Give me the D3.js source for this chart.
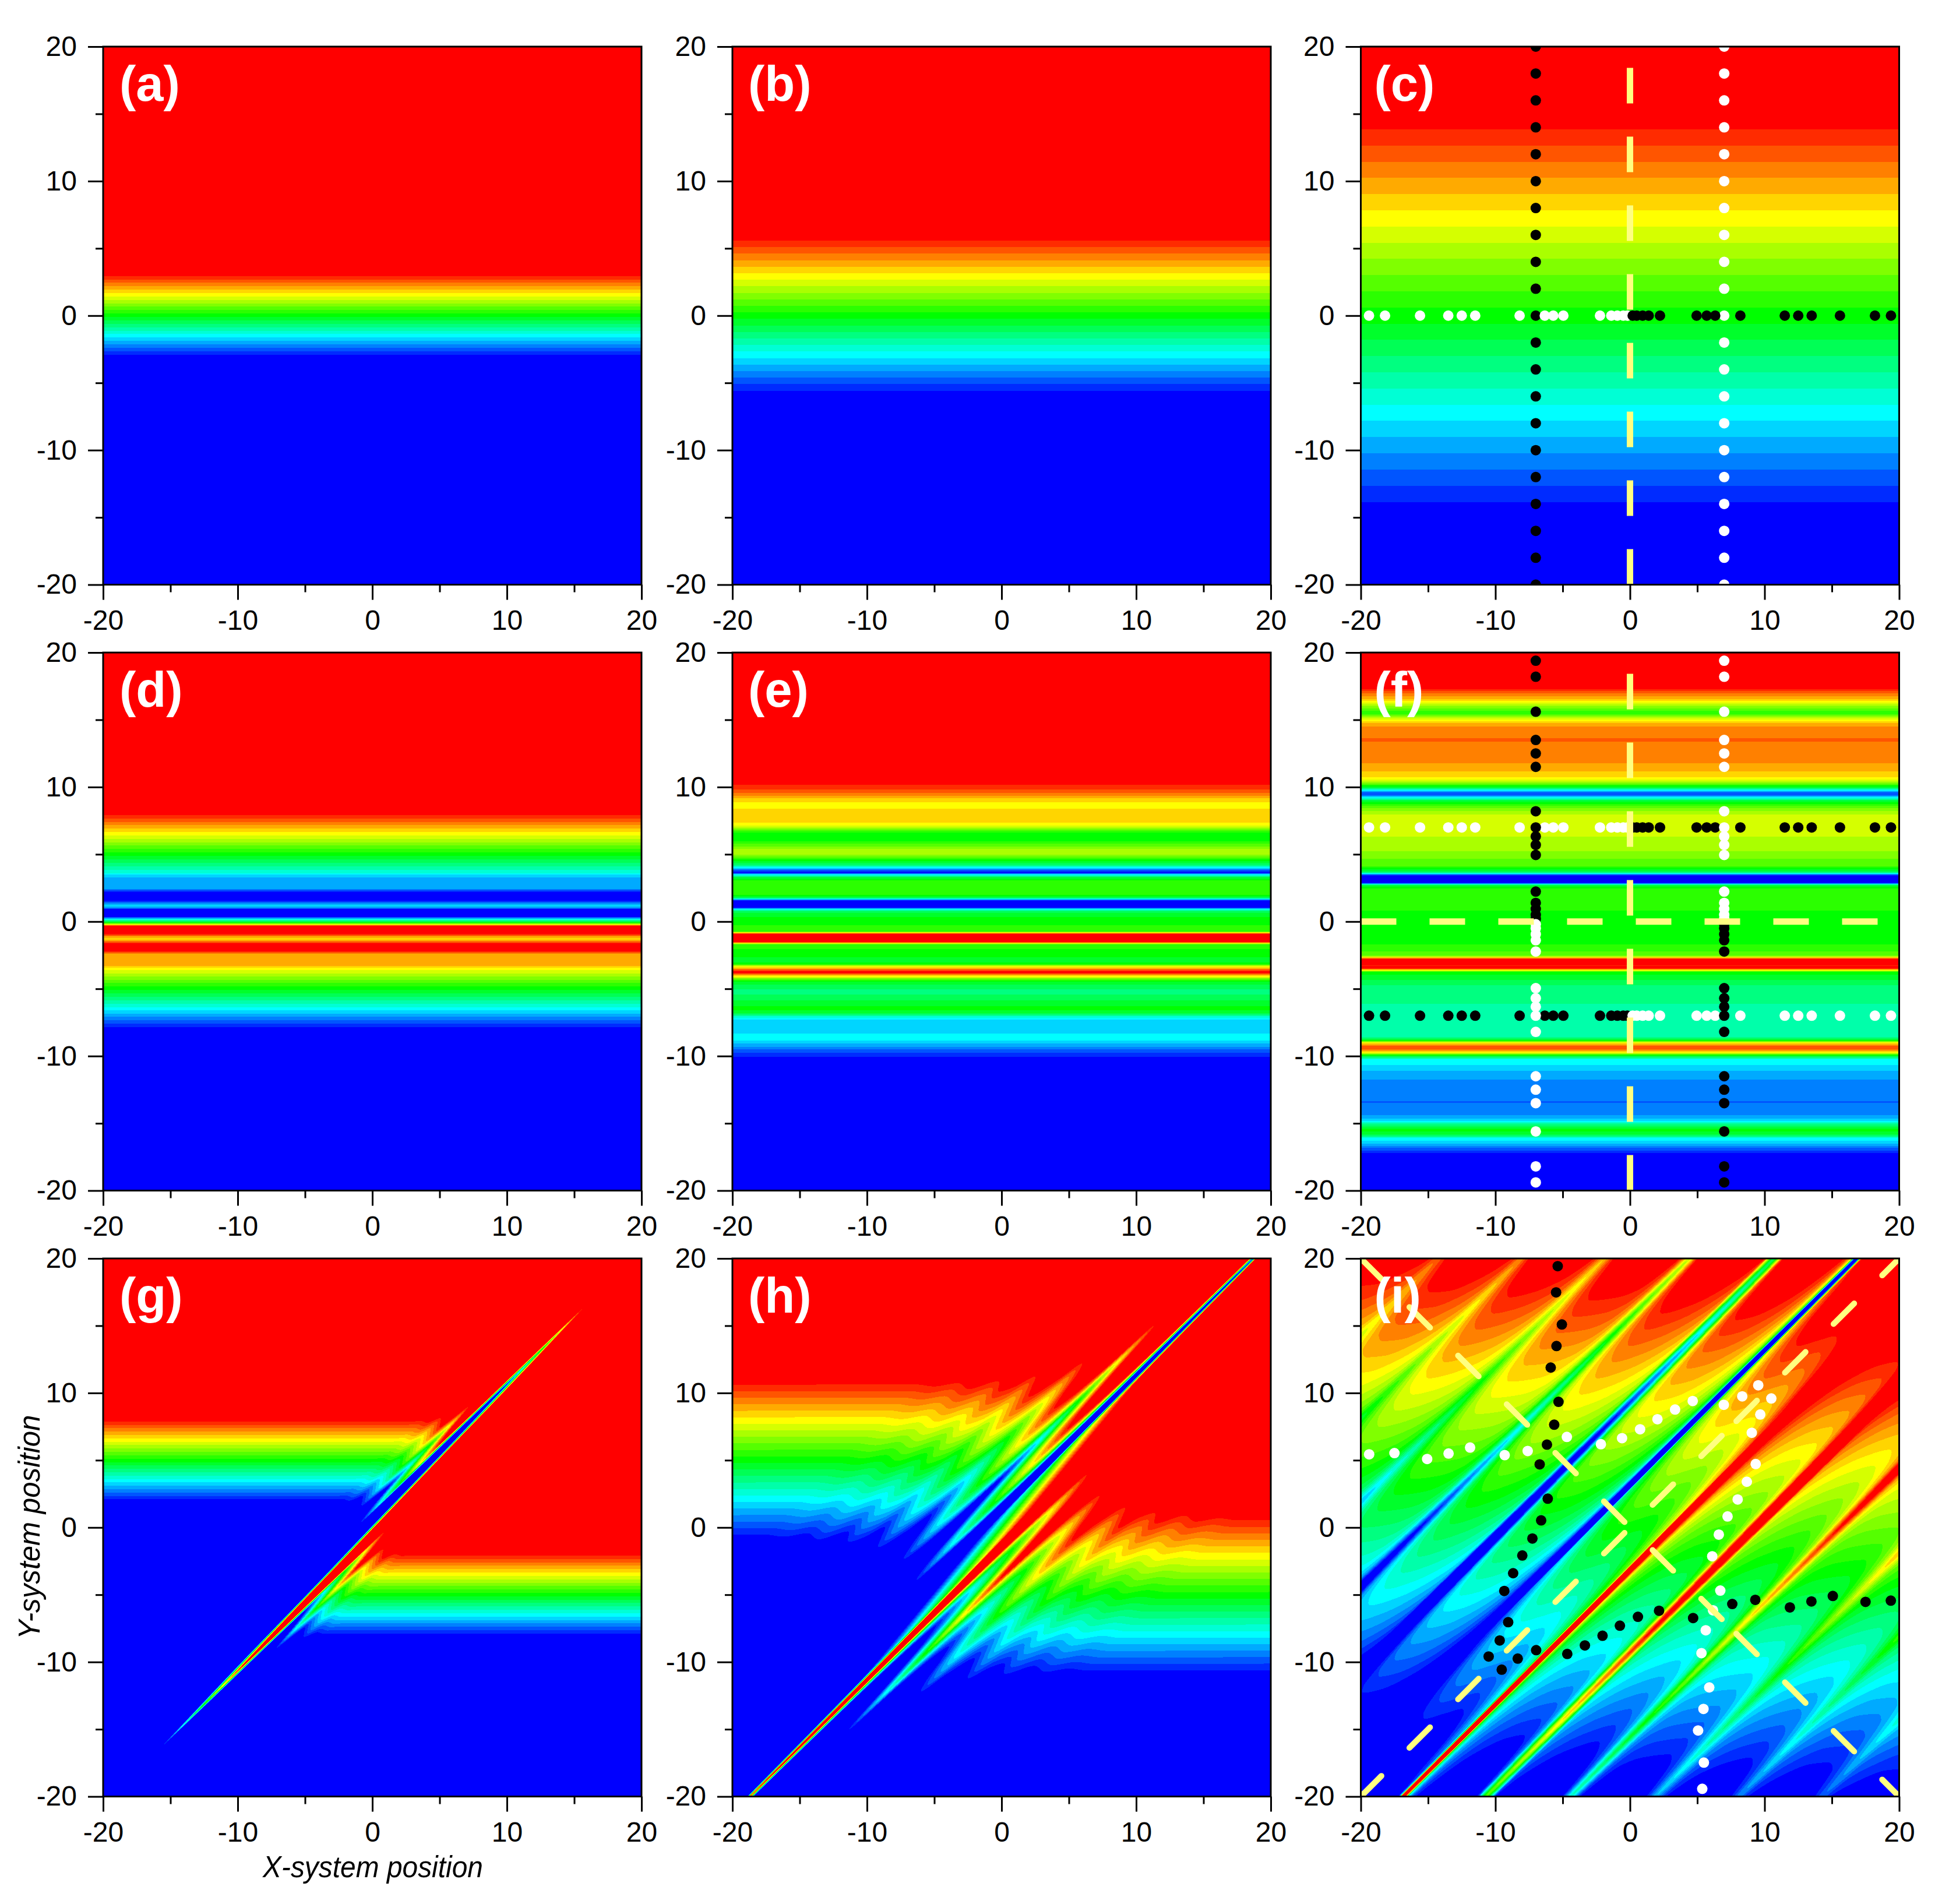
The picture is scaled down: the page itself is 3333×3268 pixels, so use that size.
<!DOCTYPE html>
<html><head><meta charset="utf-8">
<script src="https://cdn.jsdelivr.net/npm/d3@7"></script>
<style>html,body{margin:0;background:#fff}svg{display:block}text{font-family:"Liberation Sans",Arial,sans-serif;fill:#000}</style>
</head><body><svg id="c" width="3333" height="3268"></svg>
<script>
// colour bands, index = level 0..24
const bandColors=["#0000ff","#002bff","#0055ff","#0080ff","#00aaff","#00d5ff","#00ffff","#00ffd5","#00ffaa","#00ff80","#00ff55","#00ff2b","#00ff00","#2bff00","#55ff00","#80ff00","#aaff00","#d5ff00","#ffff00","#ffd500","#ffaa00","#ff8000","#ff5500","#ff2b00","#ff0000"];
const bandThresholds=d3.range(1,25).map(k=>k-0.5);
const majorTicks=[-20,-10,0,10,20];
const minorTicks=[-15,-5,5,15];
const panelNames=["(a)","(b)","(c)","(d)","(e)","(f)","(g)","(h)","(i)"];
const labelOffset=[28,27,23];

// panels a-f: level read against y
const aY=[-2.9,2.95], aL=[0.5,23.5];
const bY=[-5.58,5.58], bL=[0.5,23.5];
const cY=[-13.85,13.85], cL=[0.5,23.5];
const dY=[7.92,6.40,5.14,3.57,3.49,3.29,2.43,2.21,1.54,1.34,1.17,1.01,0.93,0.35,0.18,-0.07,-0.23,-0.31,-0.94,-1.11,-1.31,-1.50,-1.60,-2.21,-2.40,-3.29,-3.45,-3.62,-4.94,-6.51,-6.6,-7.83];
const dL=[23.5,17.5,12.5,6.5,5.5,4.5,3.5,0.5,0.5,3.5,5,3,0.5,0.5,6,12,18,23.5,23.5,20.5,19,21.5,23.5,23.5,20.5,19.5,18.5,17.5,12,6,5.5,0.5];
const eY=[10.15,9.82,9.57,9.36,9.16,8.86,8.61,8.41,7.87,7.34,7.12,6.63,6.30,5.97,5.39,5.17,4.98,4.48,4.15,4.02,3.82,3.69,3.62,3.49,3.32,2.99,2.50,2.0,1.80,1.67,1.55,1.04,0.93,0.76,0.35,0,-0.40,-0.73,-0.81,-0.94,-1.52,-1.60,-1.72,-2.96,-3.16,-3.37,-3.54,-3.70,-3.83,-3.95,-4.08,-4.28,-4.53,-5.19,-6.10,-6.46,-6.76,-7.09,-7.29,-7.83,-8.33,-8.58,-8.83,-9.07,-9.32,-9.49,-9.74,-10.07];
const eL=[23.5,22.5,21.5,20.5,19.5,18.5,18,18.5,19,18.5,17.5,12.5,12,12.5,15.5,16,15.5,11.5,9,6,2,0.5,0.5,6,10,13,13.3,13,10.5,6,0.5,0.5,6,10,11.5,12,12.7,13,18,23.5,23.5,18,13,11,12.5,18,21,23.5,23.5,21,18,14,11,9,11,12,11,7,5.5,5,5.5,6,5.5,4.5,3.5,2.5,1.5,0.5];
const fY=[17.29,16.96,16.55,16.35,16.08,15.58,15.39,15.17,14.97,14.75,14.48,13.65,13.51,13.37,11.85,11.16,10.75,10.47,10.14,9.92,9.75,9.59,9.42,9.23,8.95,8.54,7.98,7.15,6.33,5.22,4.12,3.70,3.56,3.43,2.87,2.73,2.46,1.63,0.80,-0.44,-1.69,-2.51,-2.65,-2.79,-3.48,-3.62,-3.76,-4.72,-5.41,-6.10,-7.07,-8.04,-8.59,-8.81,-9.0,-9.28,-9.50,-9.75,-9.97,-10.25,-10.66,-11.08,-11.77,-13.29,-13.4,-13.56,-14.39,-14.8,-15.08,-15.5,-15.9,-16.1,-16.46,-16.74,-17.2];
const fL=[23.5,21.5,19.5,18,16,13,13.5,16.5,18,19.5,20.6,21.4,22,21.4,20.6,19.5,18.5,17,13,10,6,2,1.5,6,11,14,16.5,17,16.5,15.5,13.5,10,6,0.5,0.5,10,12.6,13,12.5,12,12.5,14,18,23.5,23.5,18,12,9.5,9,8.5,7.5,7.5,8.5,11,18,22,21.5,18,11,6.5,5.5,4.5,3.5,3,2,3,3.5,5,9,12,10,6,5,3,0.5];

// panels g-i: level = 12 + gain*y + offset(y-x), offset read for y-x >= 0 and mirrored
const gGain=3.97, hGain=2.06, iGain=0.83;
const gV=[0,0.1,0.3,0.5,0.65,0.8,1.0,1.2,1.5,1.85,2.1,2.4,2.75,3.1,3.4,3.7,4.3,5,40];
const gH=[0,-8,-30,-45,-53,-44,-25,-13,-17,-24,-21,-18,-19.5,-20.8,-20,-19.4,-19.9,-19.8,-19.8];
const hV=[0,0.5,0.9,1.02,1.2,1.3,1.43,1.6,1.82,2.1,2.4,2.8,3.2,3.7,4.1,4.5,4.9,5.4,5.8,6.24,6.8,7.67,8.2,8.75,9.5,10.25,11.15,12.7,14,15.5,17,40];
const hH=[0,-6,-12,-20,-42,-52,-42,-27,-15,-7,-3.5,-6,-12,-19.4,-13,-8.5,-6.7,-9,-12,-13.6,-11,-8.5,-10,-11.6,-10,-9.3,-10.9,-9.7,-10.6,-10.1,-10.4,-10.3];
const iV=[0,1,1.5,2.1,2.5,2.75,2.9,2.95,3.1,3.28,3.39,3.46,3.6,3.9,4.4,5.2,6.5,7.5,8,8.6,8.87,9.15,9.3,9.45,9.73,10,10.6,12,13.5,14.3,14.9,15.3,15.6,15.9,16.3,17,18,19.8,20.5,21.2,21.6,21.9,22.2,22.7,23.5,25,26,26.8,27.5,28.1,28.7,29.5,31,32.2,33,33.7,34.3,34.9,35.7,37,38.3,39.2,40];
const iH=[0,0.3,0,-1.3,-3.5,-5,-13,-22,-33,-27.6,-21.6,-13.2,-9.8,-6,-4,-2.5,-1.5,-1.3,-1.7,-5,-11,-17,-18.5,-17,-11,-5,-3.5,-2.2,-1.7,-2.4,-4.5,-9,-12,-9,-5,-3.2,-2.7,-2.5,-3,-5,-7.5,-9,-7.5,-5,-3.7,-2.9,-2.7,-3.2,-5,-7.6,-5.2,-4,-3.1,-3,-3.4,-5,-6.8,-5,-4.2,-3.5,-3.4,-4,-5];

// markers
const zeroPositions=[0.2,0.5,0.94,1.39,2.23,4.95,5.7,6.33,8.2,11.5,12.5,13.5,15.6,18.2,19.39];
const columnPositions=[0.2,0.5,0.94,1.39,2.23,4.95,5.7,6.33,7,8.2,11.5,12.5,13.5,15.6,18.2,19.39];
const evenRows=d3.range(-20,21,2);
const iBlackX=[-5.37,-5.49,-5.06,-5.46,-5.89,-5.31,-5.63,-6.17,-6.71,-6.11,-6.6,-7.25,-8.0,-8.68,-9.34,-9.05,-9.68,-10.5,-9.53,-8.34,-6.97,-4.66,-3.35,-2.04,-0.75,0.59,2.16,4.69,7.6,9.31,11.88,13.48,15.07,17.5,19.38];
const iBlackY=[19.43,17.48,15.09,13.49,11.89,9.34,7.64,6.16,4.69,2.14,0.53,-0.82,-2.08,-3.40,-4.72,-7.04,-8.40,-9.59,-10.57,-9.75,-9.12,-9.40,-8.77,-8.05,-7.30,-6.64,-6.19,-6.73,-5.69,-5.38,-5.94,-5.50,-5.09,-5.53,-5.44];
const iWhiteX=iBlackX.map(v=>-v), iWhiteY=iBlackY.map(v=>-v);
const diagStart=[-20,7.9], diagEnd=[7.1,20];

const yellow="#ffff80";
const plotX=[177,1257,2335.5], plotY=[80,1120,2160], W=924, H=923.5;
const svg=d3.select("#c");
const defs=svg.append("defs");

function panel(col,row){
  const i=row*3+col, x0=plotX[col], y0=plotY[row];
  const g=svg.append("g").attr("transform",`translate(${x0},${y0})`);
  const x=d3.scaleLinear([-20,20],[0,W]), y=d3.scaleLinear([-20,20],[H,0]);
  defs.append("clipPath").attr("id","cp"+i).append("rect").attr("width",W).attr("height",H);
  const body=g.append("g").attr("clip-path",`url(#cp${i})`);
  body.append("rect").attr("width",W).attr("height",H).attr("fill",bandColors[0]);
  return {g,body,x,y,i,col};
}
function bands(p,ys,ls){
  const lev=d3.scaleLinear(ys,ls).clamp(true);
  const idx=py=>{const l=lev(p.y.invert(py+0.5));return l<=0.5?0:Math.min(24,Math.round(l));};
  let start=0,cur=idx(0); const runs=[], rows=Math.ceil(H);
  for(let r=1;r<=rows;r++){const k=r<rows?idx(r):-1; if(k!==cur){runs.push({a:start,b:r,k:cur});start=r;cur=k;}}
  p.body.selectAll("rect.b").data(runs).join("rect").attr("class","b").attr("x",0).attr("width",W)
    .attr("y",d=>d.a).attr("height",d=>d.b-d.a).attr("fill",d=>bandColors[d.k]).attr("shape-rendering","crispEdges");
}
// monotone cubic reading of a table, so that lobes stay rounded as in the picture
function smoothTable(xs,ys){
  const n=xs.length, d=[], m=new Array(n);
  for(let i=0;i<n-1;i++) d[i]=(ys[i+1]-ys[i])/(xs[i+1]-xs[i]);
  m[0]=d[0]; m[n-1]=d[n-2];
  for(let i=1;i<n-1;i++){
    if(d[i-1]*d[i]<=0) m[i]=0;
    else {const h0=xs[i]-xs[i-1],h1=xs[i+1]-xs[i],w0=2*h1+h0,w1=h1+2*h0; m[i]=(w0+w1)/(w0/d[i-1]+w1/d[i]);}
  }
  return v=>{
    if(v>=xs[n-1]) return ys[n-1];
    const i=Math.max(0,d3.bisectRight(xs,v)-1), h=xs[i+1]-xs[i], t=(v-xs[i])/h, t2=t*t, t3=t2*t;
    return (2*t3-3*t2+1)*ys[i]+(t3-2*t2+t)*h*m[i]+(-2*t3+3*t2)*ys[i+1]+(t3-t2)*h*m[i+1];
  };
}
function field(p,gain,vs,hs){
  const n=924, step=40/n;
  const off=smoothTable(vs,hs);
  const lut=new Float64Array(2*n);
  for(let k=0;k<2*n;k++){const v=40-(k+1)*step; lut[k]=v>=0?off(v):-off(-v);}
  const values=new Float64Array(n*n);
  for(let j=0;j<n;j++){const yy=20-(j+0.5)*step; for(let i=0;i<n;i++) values[j*n+i]=12+gain*yy+lut[i+j];}
  const gx=d3.scaleLinear([0,n],[0,W]), gy=d3.scaleLinear([0,n],[0,H]);
  const path=d3.geoPath(d3.geoTransform({point(a,b){this.stream.point(gx(a),gy(b));}}));
  const cs=d3.contours().size([n,n]).thresholds(bandThresholds)(values);
  p.body.selectAll("path.c").data(cs).join("path").attr("class","c").attr("d",path)
    .attr("fill",(d,k)=>bandColors[k+1]).attr("shape-rendering","crispEdges");
}
function dots(p,xs,ys,color){
  p.body.append("g").selectAll("circle").data(xs).join("circle")
    .attr("cx",d=>p.x(d)).attr("cy",(d,k)=>p.y(ys[k])).attr("r",9).attr("fill",color);
}
function dashed(p,x1,y1,x2,y2,round){
  p.body.append("line").attr("x1",p.x(x1)).attr("y1",p.y(y1)).attr("x2",p.x(x2)).attr("y2",p.y(y2))
    .attr("stroke",yellow).attr("stroke-width",round?10:11)
    .attr("stroke-dasharray",round?"50 68":"61 57").attr("stroke-linecap",round?"round":"butt");
}
function finish(p){
  const {g,x,y}=p;
  g.append("rect").attr("width",W).attr("height",H).attr("fill","none").attr("stroke","#000").attr("stroke-width",3);
  const ax=g.append("g").attr("transform",`translate(0,${H})`).call(d3.axisBottom(x).tickValues(majorTicks).tickFormat(String).tickSize(26).tickPadding(17));
  const ay=g.append("g").call(d3.axisLeft(y).tickValues(majorTicks).tickFormat(String).tickSize(26).tickPadding(19));
  const mx=g.append("g").attr("transform",`translate(0,${H})`).call(d3.axisBottom(x).tickValues(minorTicks).tickFormat("").tickSize(13));
  const my=g.append("g").call(d3.axisLeft(y).tickValues(minorTicks).tickFormat("").tickSize(13));
  [ax,ay,mx,my].forEach(s=>{s.select(".domain").remove();s.selectAll("line").attr("stroke","#000").attr("stroke-width",3);s.selectAll("text").attr("font-size",48).attr("fill","#000").attr("font-family",'"Liberation Sans",Arial,sans-serif');});
}
function label(p){
  p.g.append("text").attr("x",labelOffset[p.col]).attr("y",93).attr("font-size",85).attr("font-weight","bold").style("fill","#fff").text(panelNames[p.i]);
}

// row 1
let p=panel(0,0); bands(p,aY,aL); label(p); finish(p);
p=panel(1,0); bands(p,bY,bL); label(p); finish(p);
p=panel(2,0); bands(p,cY,cL); label(p);
dots(p,evenRows.map(()=>-7),evenRows,"#000");
dots(p,evenRows.map(()=>7),evenRows,"#fff");
dots(p,zeroPositions.map(v=>-v),zeroPositions.map(()=>0),"#fff");
dots(p,zeroPositions,zeroPositions.map(()=>0),"#000");
dashed(p,0,-20,0,20); finish(p);
// row 2
p=panel(0,1); bands(p,dY,dL); label(p); finish(p);
p=panel(1,1); bands(p,eY,eL); label(p); finish(p);
p=panel(2,1); bands(p,fY,fL); label(p);
dots(p,zeroPositions.map(v=>-v),zeroPositions.map(()=>7),"#fff");
dots(p,zeroPositions,zeroPositions.map(()=>7),"#000");
dots(p,zeroPositions.map(v=>-v),zeroPositions.map(()=>-7),"#000");
dots(p,zeroPositions,zeroPositions.map(()=>-7),"#fff");
dots(p,columnPositions.map(()=>-7),columnPositions,"#000");
dots(p,columnPositions.map(()=>-7),columnPositions.map(v=>-v),"#fff");
dots(p,columnPositions.map(()=>7),columnPositions,"#fff");
dots(p,columnPositions.map(()=>7),columnPositions.map(v=>-v),"#000");
dashed(p,-20,0,20,0); dashed(p,0,-20,0,20); finish(p);
// row 3
p=panel(0,2); field(p,gGain,gV,gH); label(p); finish(p);
p=panel(1,2); field(p,hGain,hV,hH); label(p); finish(p);
p=panel(2,2); field(p,iGain,iV,iH); label(p);
dots(p,iBlackX,iBlackY,"#000");
dots(p,iWhiteX,iWhiteY,"#fff");
diagStart.forEach((s,k)=>{dashed(p,s,s,diagEnd[k],diagEnd[k],true);});
diagStart.forEach((s,k)=>{dashed(p,s,-s,diagEnd[k],-diagEnd[k],true);});
finish(p);

svg.append("text").attr("x",640).attr("y",3222).attr("text-anchor","middle").attr("font-size",52).attr("textLength",378).attr("lengthAdjust","spacingAndGlyphs").attr("font-style","italic").text("X-system position");
svg.append("text").attr("transform","translate(68,2621) rotate(-90)").attr("text-anchor","middle").attr("font-size",52).attr("textLength",385).attr("lengthAdjust","spacingAndGlyphs").attr("font-style","italic").text("Y-system position");
</script></body></html>
